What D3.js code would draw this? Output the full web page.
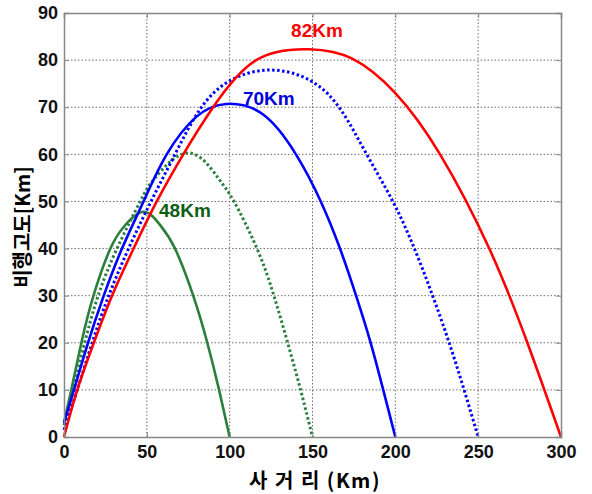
<!DOCTYPE html>
<html>
<head>
<meta charset="utf-8">
<script src="https://cdn.jsdelivr.net/npm/d3@7"></script>
<style>
  body { margin: 0; background: #fff; }
  svg { display: block; }
</style>
</head>
<body>
<div id="chart"></div>
<script>
// --------------------------------------
//  Data
// --------------------------------------

const xTicks = [0, 50, 100, 150, 200, 250, 300];
const yTicks = [0, 10, 20, 30, 40, 50, 60, 70, 80, 90];

// [range km, altitude km]
const red82 = [[0,0],[8,10],[18,20],[29,30],[42,40],[56,50],[72,60],[90,70],[116,80],[148,82.3],[174,80.3],[200,73],[227,60],[256.7,40],[279.7,20],[300,0]];
const blue70 = [[0,3],[6,10],[14.5,20],[24,30],[35,40],[48,50],[62,60],[80,68],[98,70.7],[120,68.5],[140,60],[155,50],[166.6,40],[176.3,30],[185.1,20],[192.7,10],[200,0]];
const blueDot = [[0,1.5],[8,10],[17,20],[27,30],[39,40],[52.5,50],[67,60],[82,69.5],[100,75.6],[124.5,77.9],[149,75.6],[167,69.5],[182.7,60],[198.5,50],[211.5,40],[222.5,30],[232.5,20],[241.5,10],[250,0]];
const greenDot = [[0,2.5],[5.5,10],[12.5,20],[20.6,30],[32,40],[46,50],[55,55],[75,60.3],[93,55],[102.6,50],[116.5,40],[126.7,30],[135,20],[142.8,10],[150,0]];
const green48 = [[0,3],[4.4,10],[10.5,20],[17.8,30],[28,40],[37,45],[48,47.8],[58,45],[67,40],[78,30],[86.5,20],[93.6,10],[100,0]];

const series = [
  {name: "greenDot", pts: greenDot, color: "#2a7f3c", dash: "2.5,2.5"},
  {name: "green48", pts: green48, color: "#2a7f3c", dash: null},
  {name: "blueDot", pts: blueDot, color: "#0000ff", dash: "2.5,2.5"},
  {name: "blue70", pts: blue70, color: "#0000ff", dash: null},
  {name: "red82", pts: red82, color: "#ff0000", dash: null}
];

const labels = [
  {text: "82Km", x: 152.7, y: 84.9, color: "#ff0000"},
  {text: "70Km", x: 123.6, y: 70.4, color: "#0000dd"},
  {text: "48Km", x: 73, y: 46.8, color: "#0d5e14"}
];

// --------------------------------------
//  Canvas
// --------------------------------------

const width = 592, height = 494;
const svg = d3.select("#chart").append("svg")
  .attr("width", width).attr("height", height);

const x = d3.scaleLinear().domain([0, 300]).range([64, 561]);
const y = d3.scaleLinear().domain([0, 90]).range([437, 13]);

const gridColor = "#6e6e6e";

// grid
svg.append("g").selectAll("line.gx")
  .data(xTicks.slice(1, -1)).join("line")
    .attr("x1", d => x(d)).attr("x2", d => x(d))
    .attr("y1", y(0)).attr("y2", y(90))
    .attr("stroke", gridColor).attr("stroke-width", 1)
    .attr("stroke-dasharray", "1.5,2");
svg.append("g").selectAll("line.gy")
  .data(yTicks.slice(1, -1)).join("line")
    .attr("x1", x(0)).attr("x2", x(300))
    .attr("y1", d => y(d)).attr("y2", d => y(d))
    .attr("stroke", gridColor).attr("stroke-width", 1)
    .attr("stroke-dasharray", "1.5,2");

// --------------------------------------
//  Curves
// --------------------------------------

const line = d3.line()
  .x(d => x(d[0]))
  .y(d => y(d[1]))
  .curve(d3.curveNatural);

series.forEach(s => {
  svg.append("path")
    .attr("d", line(s.pts))
    .attr("fill", "none")
    .attr("stroke", s.color)
    .attr("stroke-width", s.dash ? 3 : 2.6)
    .attr("stroke-dasharray", s.dash);
});

// --------------------------------------
//  Axes
// --------------------------------------

const tickFont = "Liberation Sans, Arial, sans-serif";

const xAxis = svg.append("g")
  .attr("transform", `translate(0, ${y(0)})`)
  .call(d3.axisBottom(x).tickValues(xTicks).tickSize(-5).tickPadding(8));
const yAxis = svg.append("g")
  .attr("transform", `translate(${x(0)}, 0)`)
  .call(d3.axisLeft(y).tickValues(yTicks).tickSize(-5).tickPadding(6));
svg.append("g")
  .attr("transform", `translate(0, ${y(90)})`)
  .call(d3.axisTop(x).tickValues(xTicks).tickSize(-5).tickFormat(""));
svg.append("g")
  .attr("transform", `translate(${x(300)}, 0)`)
  .call(d3.axisRight(y).tickValues(yTicks).tickSize(-5).tickFormat(""));

svg.selectAll(".domain").attr("stroke", "#888").attr("stroke-width", 1.5);
svg.selectAll(".tick line").attr("stroke", "#888");

[xAxis, yAxis].forEach(a => a.selectAll("text")
  .attr("font-family", tickFont)
  .attr("font-size", 18)
  .attr("font-weight", "bold")
  .attr("fill", "#111"));

// curve labels
svg.append("g").selectAll("text")
  .data(labels).join("text")
    .attr("x", d => x(d.x))
    .attr("y", d => y(d.y))
    .attr("text-anchor", "middle")
    .attr("font-family", tickFont)
    .attr("font-size", 19)
    .attr("font-weight", "bold")
    .attr("fill", d => d.color)
    .text(d => d.text);

// axis titles
svg.append("text")
  .attr("x", 315).attr("y", 488)
  .attr("text-anchor", "middle")
  .attr("font-family", "Noto Sans CJK KR, sans-serif")
  .attr("font-size", 20)
  .attr("letter-spacing", 1.5)
  .attr("font-weight", "bold")
  .attr("fill", "#000")
  .text("사 거 리 (Km)");

svg.append("text")
  .attr("transform", "translate(30, 227) rotate(-90)")
  .attr("text-anchor", "middle")
  .attr("font-family", "Noto Sans CJK KR, sans-serif")
  .attr("font-size", 20)
  .attr("font-weight", "bold")
  .attr("fill", "#000")
  .text("비행고도[Km]");
</script>
</body>
</html>
